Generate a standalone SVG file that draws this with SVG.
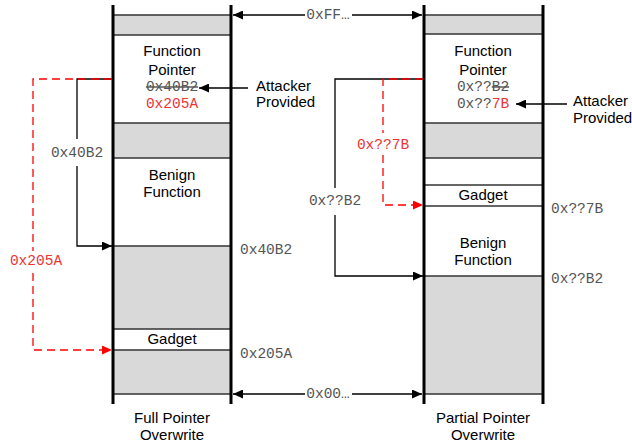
<svg xmlns="http://www.w3.org/2000/svg" width="632" height="446" viewBox="0 0 632 446">
<defs>
<marker id="ah" markerUnits="userSpaceOnUse" markerWidth="11" markerHeight="9" refX="10" refY="4.5" orient="auto"><path d="M0,0 L10,4.5 L0,9 z" fill="#000"/></marker>
<marker id="ahr" markerUnits="userSpaceOnUse" markerWidth="11" markerHeight="9" refX="10" refY="4.5" orient="auto"><path d="M0,0 L10,4.5 L0,9 z" fill="#ff0000"/></marker>
<style>
.g{fill:#d9d9d9}
.w{fill:#fff}
.h{stroke:#333;stroke-width:1.5}
.v{stroke:#000;stroke-width:3}
.s{font-family:"Liberation Sans",Arial,sans-serif;font-size:15px;fill:#000}
.m{font-family:"Liberation Mono","Courier New",monospace;font-size:14.5px;fill:#555}
.r{fill:#ee3333}
.c{fill:none;stroke:#000;stroke-width:1.3}
.d{fill:none;stroke:#ff0000;stroke-width:1.3;stroke-dasharray:8,5}
.mid{text-anchor:middle}
</style>
</defs>
<rect width="632" height="446" fill="#fff"/>

<g id="left-column">
<g id="L-top"><rect x="113" y="15" width="118" height="20" class="g"/></g>
<g id="L-funcptr"><rect x="113" y="35" width="118" height="88" class="w"/>
<text class="s mid" x="172" y="56">Function</text>
<text class="s mid" x="172" y="75">Pointer</text>
<text class="m mid" x="172" y="91" text-decoration="line-through">0x40B2</text>
<text class="m r mid" x="172" y="108">0x205A</text></g>
<g id="L-gap1"><rect x="113" y="123" width="118" height="35" class="g"/></g>
<g id="L-benign"><rect x="113" y="158" width="118" height="88" class="w"/>
<text class="s mid" x="172" y="180">Benign</text>
<text class="s mid" x="172" y="197">Function</text></g>
<g id="L-gap2"><rect x="113" y="246" width="118" height="83" class="g"/></g>
<g id="L-gadget"><rect x="113" y="329" width="118" height="21" class="w"/>
<text class="s mid" x="172" y="344">Gadget</text></g>
<g id="L-bottom"><rect x="113" y="350" width="118" height="44" class="g"/></g>
<g>
<line x1="113" y1="15" x2="231" y2="15" class="h"/>
<line x1="113" y1="35" x2="231" y2="35" class="h"/>
<line x1="113" y1="123" x2="231" y2="123" class="h"/>
<line x1="113" y1="158" x2="231" y2="158" class="h"/>
<line x1="113" y1="246" x2="231" y2="246" class="h"/>
<line x1="113" y1="329" x2="231" y2="329" class="h"/>
<line x1="113" y1="350" x2="231" y2="350" class="h"/>
<line x1="113" y1="394" x2="231" y2="394" class="h"/>
<line x1="113" y1="5" x2="113" y2="404" class="v"/>
<line x1="231" y1="5" x2="231" y2="404" class="v"/>
</g>
<text class="s mid" x="172" y="423">Full Pointer</text>
<text class="s mid" x="172" y="440">Overwrite</text>
</g>

<g id="right-column">
<g id="R-top"><rect x="424" y="15" width="119" height="19" class="g"/></g>
<g id="R-funcptr"><rect x="424" y="34" width="119" height="89" class="w"/>
<text class="s mid" x="483" y="56">Function</text>
<text class="s mid" x="483" y="75">Pointer</text>
<text class="m mid" x="483" y="91">0x??<tspan text-decoration="line-through">B2</tspan></text>
<text class="m mid" x="483" y="108">0x??<tspan class="r">7B</tspan></text></g>
<g id="R-gap1"><rect x="424" y="123" width="119" height="35" class="g"/></g>
<g id="R-empty"><rect x="424" y="158" width="119" height="27" class="w"/></g>
<g id="R-gadget"><rect x="424" y="185" width="119" height="21" class="w"/>
<text class="s mid" x="483" y="200">Gadget</text></g>
<g id="R-benign"><rect x="424" y="206" width="119" height="70" class="w"/>
<text class="s mid" x="483" y="248">Benign</text>
<text class="s mid" x="483" y="265">Function</text></g>
<g id="R-bottom"><rect x="424" y="276" width="119" height="118" class="g"/></g>
<g>
<line x1="424" y1="15" x2="543" y2="15" class="h"/>
<line x1="424" y1="34" x2="543" y2="34" class="h"/>
<line x1="424" y1="123" x2="543" y2="123" class="h"/>
<line x1="424" y1="158" x2="543" y2="158" class="h"/>
<line x1="424" y1="185" x2="543" y2="185" class="h"/>
<line x1="424" y1="206" x2="543" y2="206" class="h"/>
<line x1="424" y1="276" x2="543" y2="276" class="h"/>
<line x1="424" y1="394" x2="543" y2="394" class="h"/>
<line x1="424" y1="5" x2="424" y2="404" class="v"/>
<line x1="543" y1="5" x2="543" y2="404" class="v"/>
</g>
<text class="s mid" x="483" y="423">Partial Pointer</text>
<text class="s mid" x="483" y="440">Overwrite</text>
</g>

<g id="labels">
<text class="m" x="240" y="254">0x40B2</text>
<text class="m" x="240" y="358">0x205A</text>
<text class="m" x="551" y="213">0x??7B</text>
<text class="m" x="551" y="283">0x??B2</text>
<text class="s" x="256" y="91">Attacker</text>
<text class="s" x="256" y="107">Provided</text>
<text class="s" x="573" y="106">Attacker</text>
<text class="s" x="573" y="123">Provided</text>
<text class="m mid" x="328" y="19">0xFF…</text>
<text class="m mid" x="328" y="398">0x00…</text>
<text class="m mid" x="77" y="157">0x40B2</text>
<text class="m r mid" x="36" y="265">0x205A</text>
<text class="m mid" x="335" y="205">0x??B2</text>
<text class="m r mid" x="383" y="149">0x??7B</text>
</g>

<g id="connectors">
<path class="c" d="M305,15 H233" marker-end="url(#ah)"/>
<path class="c" d="M352,15 H422" marker-end="url(#ah)"/>
<path class="c" d="M305,394 H233" marker-end="url(#ah)"/>
<path class="c" d="M352,394 H422" marker-end="url(#ah)"/>
<path class="c" d="M248,88 H199" marker-end="url(#ah)"/>
<path class="c" d="M567,104 H516" marker-end="url(#ah)"/>
<path class="c" d="M113,79 H77 V139 M77,166 V246 H112" marker-end="url(#ah)"/>
<path class="d" d="M112,79 H33 V251 M33,273 V350 H112" marker-end="url(#ahr)"/>
<path class="c" d="M424,79 H335 V188 M335,215 V276 H423" marker-end="url(#ah)"/>
<path class="d" d="M423,79 H383 V133 M383,155 V205 H423" marker-end="url(#ahr)"/>
</g>
</svg>
